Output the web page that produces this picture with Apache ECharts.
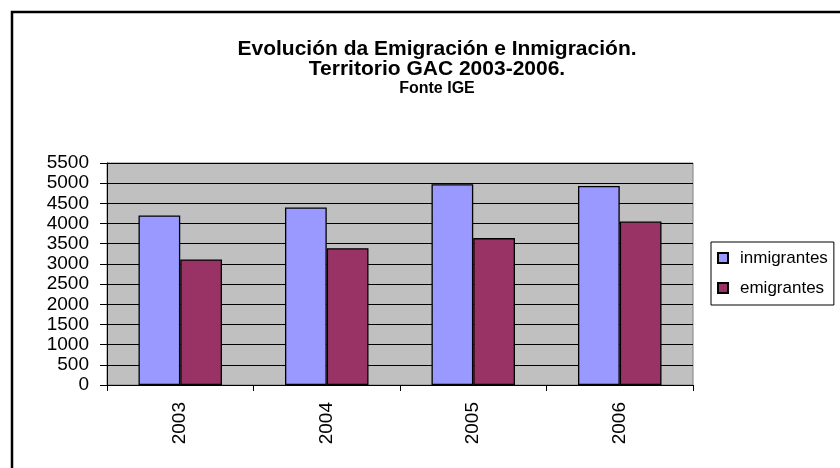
<!DOCTYPE html>
<html>
<head>
<meta charset="utf-8">
<script src="https://cdn.jsdelivr.net/npm/echarts@6/dist/echarts.min.js"></script>
<style>
  html, body { margin: 0; padding: 0; background: #fff; }
  #chart { width: 840px; height: 468px; }
</style>
</head>
<body>
<div id="chart"></div>
<script>
// datos
var years = ['2003', '2004', '2005', '2006'];
var inmigrantes = [4200, 4400, 4975, 4930];
var emigrantes = [3110, 3390, 3640, 4050];
var yTicks = { min: 0, max: 5500, step: 500 };

var chart = echarts.init(document.getElementById('chart'));

var font = 'Liberation Sans, Arial, sans-serif';

var option = {
	animation: false,
	backgroundColor: '#fff',
	textStyle: { fontFamily: font, color: '#000' },
	title: {
		text: 'Evolución da Emigración e Inmigración.\nTerritorio GAC 2003-2006.',
		subtext: 'Fonte IGE',
		left: 432,
		top: 34,
		textAlign: 'center',
		itemGap: 1,
		textStyle: { fontFamily: font, fontSize: 21, fontWeight: 'bold', color: '#000', lineHeight: 20 },
		subtextStyle: { fontFamily: font, fontSize: 16, fontWeight: 'bold', color: '#000' }
	},
	legend: {
		orient: 'vertical',
		left: 711,
		top: 242,
		padding: [7, 6, 8, 6],
		itemWidth: 10,
		itemHeight: 10,
		itemGap: 12,
		borderColor: '#000',
		borderWidth: 1,
		icon: 'rect',
		textStyle: { fontFamily: font, fontSize: 17, color: '#000', lineHeight: 18, padding: [0, 0, 0, 7] },
		data: ['inmigrantes', 'emigrantes']
	},
	grid: {
		left: 107,
		right: 147,
		top: 163,
		bottom: 83,
		show: true,
		backgroundColor: '#c0c0c0',
		borderColor: '#808080',
		borderWidth: 1
	},
	xAxis: {
		type: 'category',
		data: years,
		axisLine: { lineStyle: { color: '#000', width: 1 } },
		axisTick: { show: true, length: 6, lineStyle: { color: '#000' } },
		axisLabel: { rotate: 90, margin: 17, fontSize: 19, color: '#000', fontFamily: font }
	},
	yAxis: {
		type: 'value',
		min: yTicks.min,
		max: yTicks.max,
		interval: yTicks.step,
		axisLine: { show: true, lineStyle: { color: '#000', width: 1 } },
		axisTick: { show: true, length: 7, lineStyle: { color: '#000' } },
		axisLabel: {
			margin: 18, fontSize: 19, color: '#000', fontFamily: font,
			formatter: function (v) { return String(v); }
		},
		splitLine: { show: true, lineStyle: { color: '#000', width: 1 } }
	},
	graphic: [{
		type: 'rect',
		shape: { x: 12, y: 12, width: 900, height: 600 },
		style: { fill: 'none', stroke: '#000', lineWidth: 2.5 },
		silent: true
	}],
	series: [{
		name: 'inmigrantes',
		type: 'bar',
		data: inmigrantes,
		barGap: '0%',
		barCategoryGap: '43%',
		itemStyle: { color: '#9999ff', borderColor: '#000', borderWidth: 1.3 }
	}, {
		name: 'emigrantes',
		type: 'bar',
		data: emigrantes,
		barGap: '0%',
		barCategoryGap: '43%',
		itemStyle: { color: '#993366', borderColor: '#000', borderWidth: 1.3 }
	}]
};

chart.setOption(option);
</script>
</body>
</html>
